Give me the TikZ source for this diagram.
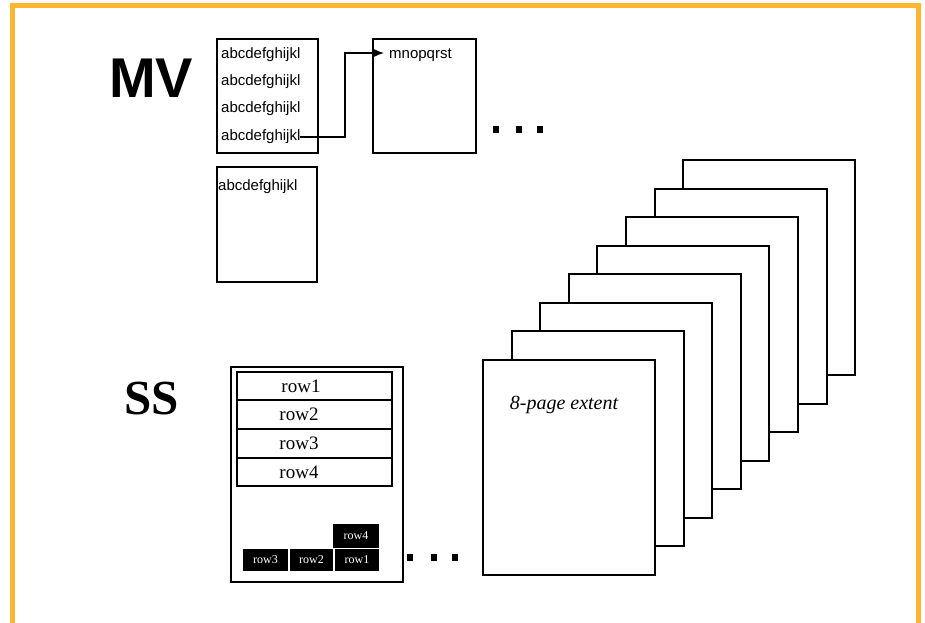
\documentclass[tikz,border=0pt]{standalone}
\usepackage{fontspec}
\setmainfont{Liberation Serif}
\newfontfamily\arialf{Liberation Sans}
\usetikzlibrary{arrows.meta}
\definecolor{frameorange}{HTML}{FFB52E}
\tikzset{
  box/.style={draw=black, line width=2pt, fill=white, inner sep=0pt},
  smalltxt/.style={font=\arialf\fontsize{15}{15}\selectfont, inner sep=0pt, anchor=west},
  rowtxt/.style={font=\fontsize{19}{19}\selectfont, inner sep=0pt},
  cell/.style={fill=black, text=white, inner sep=0pt, font=\fontsize{12}{12}\selectfont},
  dotsq/.style={fill=black, minimum width=6pt, minimum height=7pt, inner sep=0pt},
  pagebox/.style={draw=black, line width=2pt, fill=white, minimum width=172pt, minimum height=215pt, inner sep=0pt},
}
\begin{document}
\begin{tikzpicture}[x=1pt,y=-1pt]
\useasboundingbox (0,0) rectangle (925,622);
\fill[white] (0,0) rectangle (925,622);
\draw[frameorange, line width=5pt] (12.5,5.5) rectangle (918.5,625);

% MV
\node[font=\arialf\bfseries\fontsize{56}{56}\selectfont, inner sep=0pt] (mv) at (151,78) {MV};
\node[box, minimum width=101pt, minimum height=114pt] (b1) at (267.5,96) {};
\node[smalltxt] (l1) at (221,55) {abcdefghijkl};
\node[smalltxt] (l2) at (221,82) {abcdefghijkl};
\node[smalltxt] (l3) at (221,109) {abcdefghijkl};
\node[smalltxt] (l4) at (221,137) {abcdefghijkl};
\node[box, minimum width=103pt, minimum height=114pt] (b2) at (424.5,96) {};
\node[smalltxt] (m1) at (389,55) {mnopqrst};
\node[box, minimum width=100pt, minimum height=115pt] (b3) at (267,224.5) {};
\node[smalltxt] (l5) at (218,187) {abcdefghijkl};
\coordinate (as) at (300,137);
\coordinate (ab) at (345,137);
\coordinate (at) at (384,53);
\draw[line width=1.5pt, -{Latex[length=11pt,width=9pt]}] (as) -- (ab) |- (at);
\node[dotsq] (d1) at (495.5,129) {};
\node[dotsq] (d2) at (519,129) {};
\node[dotsq] (d3) at (540,129) {};

% SS
\node[font=\bfseries\fontsize{49}{49}\selectfont, inner sep=0pt] (ss) at (152,399) {SS};
\node[box, minimum width=172pt, minimum height=215pt] (sb) at (317,474.5) {};
\node[box, minimum width=155pt, minimum height=28pt] (r1) at (314.5,386) {};
\node[box, minimum width=155pt, minimum height=29pt] (r2) at (314.5,414.5) {};
\node[box, minimum width=155pt, minimum height=29pt] (r3) at (314.5,443.5) {};
\node[box, minimum width=155pt, minimum height=28pt] (r4) at (314.5,472) {};
\node[rowtxt] (t1) at (301,386) {row1};
\node[rowtxt] (t2) at (299,414.5) {row2};
\node[rowtxt] (t3) at (299,443.5) {row3};
\node[rowtxt] (t4) at (299,472) {row4};
\node[cell, minimum width=46pt, minimum height=24pt] (c4) at (356,535.5) {row4};
\node[cell, minimum width=45pt, minimum height=22pt] (c3) at (265.5,560) {row3};
\node[cell, minimum width=43pt, minimum height=22pt] (c2) at (311.5,560) {row2};
\node[cell, minimum width=44pt, minimum height=22pt] (c1) at (357,560) {row1};
\node[dotsq] (e1) at (410,557) {};
\node[dotsq] (e2) at (433.5,557) {};
\node[dotsq] (e3) at (455,557) {};

% stack of pages (back to front)
\node[pagebox] (p7) at (769,267.5) {};
\node[pagebox] (p6) at (741,296.5) {};
\node[pagebox] (p5) at (712,324.5) {};
\node[pagebox] (p4) at (683,353.5) {};
\node[pagebox] (p3) at (655,381.5) {};
\node[pagebox] (p2) at (626,410.5) {};
\node[pagebox] (p1) at (598,438.5) {};
\node[pagebox] (p0) at (569,467.5) {};
\node[font=\itshape\fontsize{20}{20}\selectfont, inner sep=0pt] (ext) at (564,405) {8-page extent};
\end{tikzpicture}
\end{document}
